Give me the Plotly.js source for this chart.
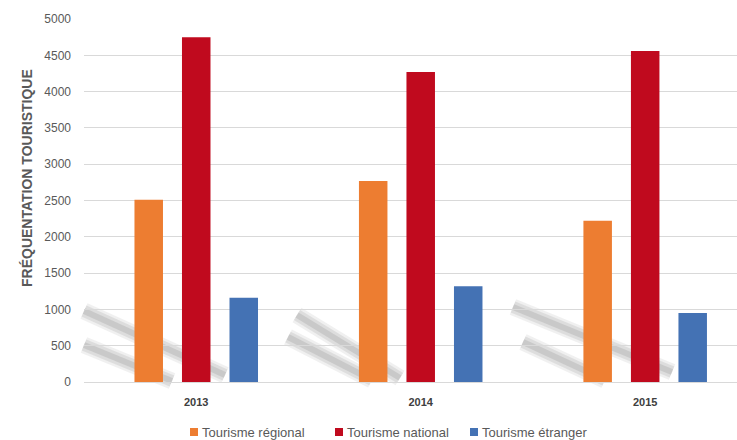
<!DOCTYPE html>
<html>
<head>
<meta charset="utf-8">
<script src="https://cdn.plot.ly/plotly-3.0.1.min.js"></script>
<style>html,body{margin:0;padding:0;background:#fff;}#chart{width:737px;height:440px;}</style>
</head>
<body>
<div id="chart"></div>
<script>
const years = ["2013", "2014", "2015"];
const regional = [2510, 2770, 2220];
const national = [4750, 4270, 4560];
const etranger = [1160, 1320, 950];
const seriesNames = ["Tourisme régional", "Tourisme national", "Tourisme étranger"];
const seriesColors = ["#ED7D31", "#C00A1E", "#4472B4"];
const yTicks = [0, 500, 1000, 1500, 2000, 2500, 3000, 3500, 4000, 4500, 5000];

const FONT = "'Liberation Sans', Arial, sans-serif";

const traces = [regional, national, etranger].map((vals, i) => ({
  type: 'bar',
  name: seriesNames[i],
  x: years,
  y: vals,
  marker: {color: seriesColors[i], line: {width: 0}},
  hoverinfo: 'none',
  showlegend: false
}));

const px = v => (v - 84) / 653;
const py = v => (382 - v) / 363;

// decorative grey streaks seen behind bars (paper coordinates)
const streakDefs = [
  [84, 311, 225, 375],
  [84, 345, 172, 381],
  [297, 315, 400, 378],
  [288, 337, 372, 380],
  [513, 307, 672, 372],
  [523, 342, 605, 380]
];
const shapes = [];
streakDefs.forEach(d => {
  [[17, 'rgba(150,150,150,0.14)'], [12, 'rgba(140,140,140,0.18)'], [6, 'rgba(130,130,130,0.22)']].forEach(([w, c]) => {
    shapes.push({
      type: 'line', xref: 'paper', yref: 'paper', layer: 'below',
      x0: px(d[0]), y0: py(d[1]), x1: px(d[2]), y1: py(d[3]),
      line: {color: c, width: w}
    });
  });
});

// custom legend: small square + label
const legendX = [190, 335, 470];
const annotations = [{
  text: '<b>FRÉQUENTATION TOURISTIQUE</b>',
  xref: 'paper', yref: 'paper',
  x: px(27), y: py(178), xanchor: 'center', yanchor: 'middle',
  textangle: -90, showarrow: false,
  font: {family: FONT, size: 14, color: '#595959'}
}];
seriesNames.forEach((n, i) => {
  shapes.push({
    type: 'rect', xref: 'paper', yref: 'paper',
    x0: px(legendX[i]), x1: px(legendX[i] + 8), y0: py(428), y1: py(436),
    fillcolor: seriesColors[i], line: {width: 0}
  });
  annotations.push({
    text: n, xref: 'paper', yref: 'paper',
    x: px(legendX[i] + 10), y: py(432), xanchor: 'left', yanchor: 'middle',
    showarrow: false,
    font: {family: FONT, size: 13, color: '#595959'}
  });
});

const layout = {
  width: 737, height: 440,
  margin: {l: 84, r: 0, t: 19, b: 58, autoexpand: false},
  paper_bgcolor: '#ffffff', plot_bgcolor: '#ffffff',
  font: {family: FONT, color: '#595959', size: 12},
  barmode: 'group',
  bargap: 0.365,
  bargroupgap: 0.4,
  showlegend: false,
  xaxis: {
    type: 'category',
    range: [-0.5, 2.409],
    showgrid: false, zeroline: false, showline: false,
    ticks: '', tickfont: {family: FONT, size: 11, color: '#404040', weight: 'bold'},
    ticklabelstandoff: 12,
    automargin: false,
    fixedrange: true
  },
  yaxis: {
    range: [0, 5000],
    tickvals: yTicks,
    ticktext: yTicks.map(String),
    showgrid: true, gridcolor: '#D9D9D9', gridwidth: 1,
    zeroline: true, zerolinecolor: '#D9D9D9', zerolinewidth: 1,
    showline: false, ticks: '',
    tickfont: {family: FONT, size: 12, color: '#595959'},
    ticklabelstandoff: 12,
    automargin: false,
    fixedrange: true
  },
  annotations: annotations,
  shapes: shapes
};

Plotly.newPlot('chart', traces, layout, {staticPlot: true, displayModeBar: false});
</script>
</body>
</html>
